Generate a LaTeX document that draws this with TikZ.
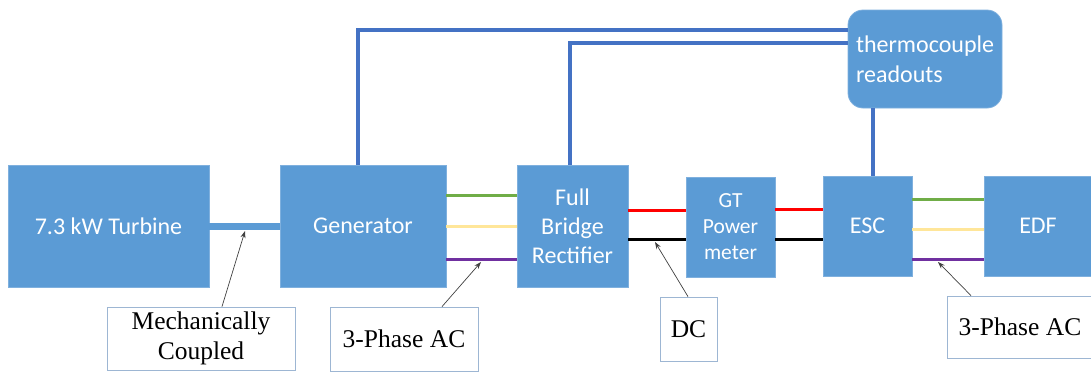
\documentclass[tikz,border=0pt]{standalone}
\usepackage{fontspec}
\setmainfont{Liberation Serif}
\newfontfamily\calib{Carlito}
\usetikzlibrary{arrows.meta}
\definecolor{boxblue}{HTML}{5B9BD5}
\definecolor{boxedge}{HTML}{7FB0DE}
\definecolor{wireblue}{HTML}{4472C4}
\definecolor{wgreen}{HTML}{70AD47}
\definecolor{wyellow}{HTML}{FFE699}
\definecolor{wpurple}{HTML}{7030A0}
\definecolor{lbledge}{HTML}{9DB6D3}
\tikzset{
  blk/.style={fill=boxblue, draw=boxedge, line width=0.8pt, text=white, font=\calib\fontsize{24}{29}\selectfont, align=center, inner sep=0pt},
  lbl/.style={fill=white, draw=lbledge, line width=0.8pt, font=\fontsize{25.5}{30}\selectfont, align=center, inner sep=0pt},
  bwire/.style={draw=wireblue, line width=4pt},
  cwire/.style={line width=3pt},
  pointer/.style={draw=black!75, line width=0.7pt, -{Stealth[length=7pt,width=5pt]}},
}
\begin{document}
\begin{tikzpicture}[x=1pt,y=-1pt]
\useasboundingbox (0,0) rectangle (1091,373);
\begin{scope}
\clip (0,0) rectangle (1091,373);
% blocks
\node[blk, minimum width=201pt, minimum height=122pt] (turb) at (108.5,226) {7.3 kW Turbine};
\node[blk, minimum width=166pt, minimum height=122pt] (gen) at (363,226) {Generator};
\node[blk, minimum width=111pt, minimum height=122pt] (rect) at (572.5,226) {Full\\Bridge\\Rectifier};
\node[blk, minimum width=89pt, minimum height=100pt, font=\calib\fontsize{21.5}{26}\selectfont] (gt) at (730.5,227) {GT\\Power\\meter};
\node[blk, minimum width=89pt, minimum height=100pt] (esc) at (867.5,226) {ESC};
\node[blk, minimum width=108pt, minimum height=100pt] (edf) at (1038,226) {EDF};
\node[blk, rounded corners=15pt, minimum width=154pt, minimum height=98pt, text width=138pt, inner xsep=8pt, align=left, font=\calib\fontsize{24}{30}\selectfont] (thermo) at (925,59) {thermocouple\\readouts};

% mechanical shaft
\draw[draw=boxblue, line width=7pt] (turb.east) -- (gen.west);

% thermocouple wires
\draw[bwire] ([xshift=-5pt]gen.north) |- (thermo.west |- 0,30);
\draw[bwire] ([xshift=-2.5pt]rect.north) |- (thermo.west |- 0,43);
\draw[bwire] ([xshift=5.5pt]esc.north) -- ([xshift=5.5pt]esc.north |- thermo.south);

% three-phase gen -> rect
\draw[cwire, wgreen] (gen.east |- 0,195) -- (rect.west |- 0,195);
\draw[cwire, wyellow] (gen.east |- 0,226) -- (rect.west |- 0,226);
\draw[cwire, wpurple] (gen.east |- 0,259) -- (rect.west |- 0,259);
% DC
\draw[cwire, red] (rect.east |- 0,210) -- (gt.west |- 0,210);
\draw[cwire, black] (rect.east |- 0,239) -- (gt.west |- 0,239);
\draw[cwire, red] (gt.east |- 0,209) -- (esc.west |- 0,209);
\draw[cwire, black] (gt.east |- 0,239) -- (esc.west |- 0,239);
% three-phase esc -> edf
\draw[cwire, wgreen] (esc.east |- 0,199) -- (edf.west |- 0,199);
\draw[cwire, wyellow] (esc.east |- 0,229) -- (edf.west |- 0,229);
\draw[cwire, wpurple] (esc.east |- 0,259) -- (edf.west |- 0,259);

% labels
\node[lbl, minimum width=188pt, minimum height=63pt] (mech) at (201,338.5) {Mechanically\\Coupled};
\node[lbl, minimum width=148pt, minimum height=64pt] (ac1) at (404,339) {3-Phase AC};
\node[lbl, minimum width=57pt, minimum height=64pt] (dc) at (688.5,329) {DC};
\node[lbl, minimum width=146pt, minimum height=62pt] (ac2) at (1020,327) {3-Phase AC};

\coordinate (pmech) at (245,231);
\coordinate (pac1) at (481,262);
\coordinate (pdc) at (655,242);
\coordinate (pac2) at (938,262);
\draw[pointer] (mech.north -| 222,0) -- (pmech);
\draw[pointer] (ac1.north -| 442,0) -- (pac1);
\draw[pointer] (dc.north -| 688,0) -- (pdc);
\draw[pointer] (ac2.north -| 971,0) -- (pac2);
\end{scope}
\end{tikzpicture}
\end{document}
